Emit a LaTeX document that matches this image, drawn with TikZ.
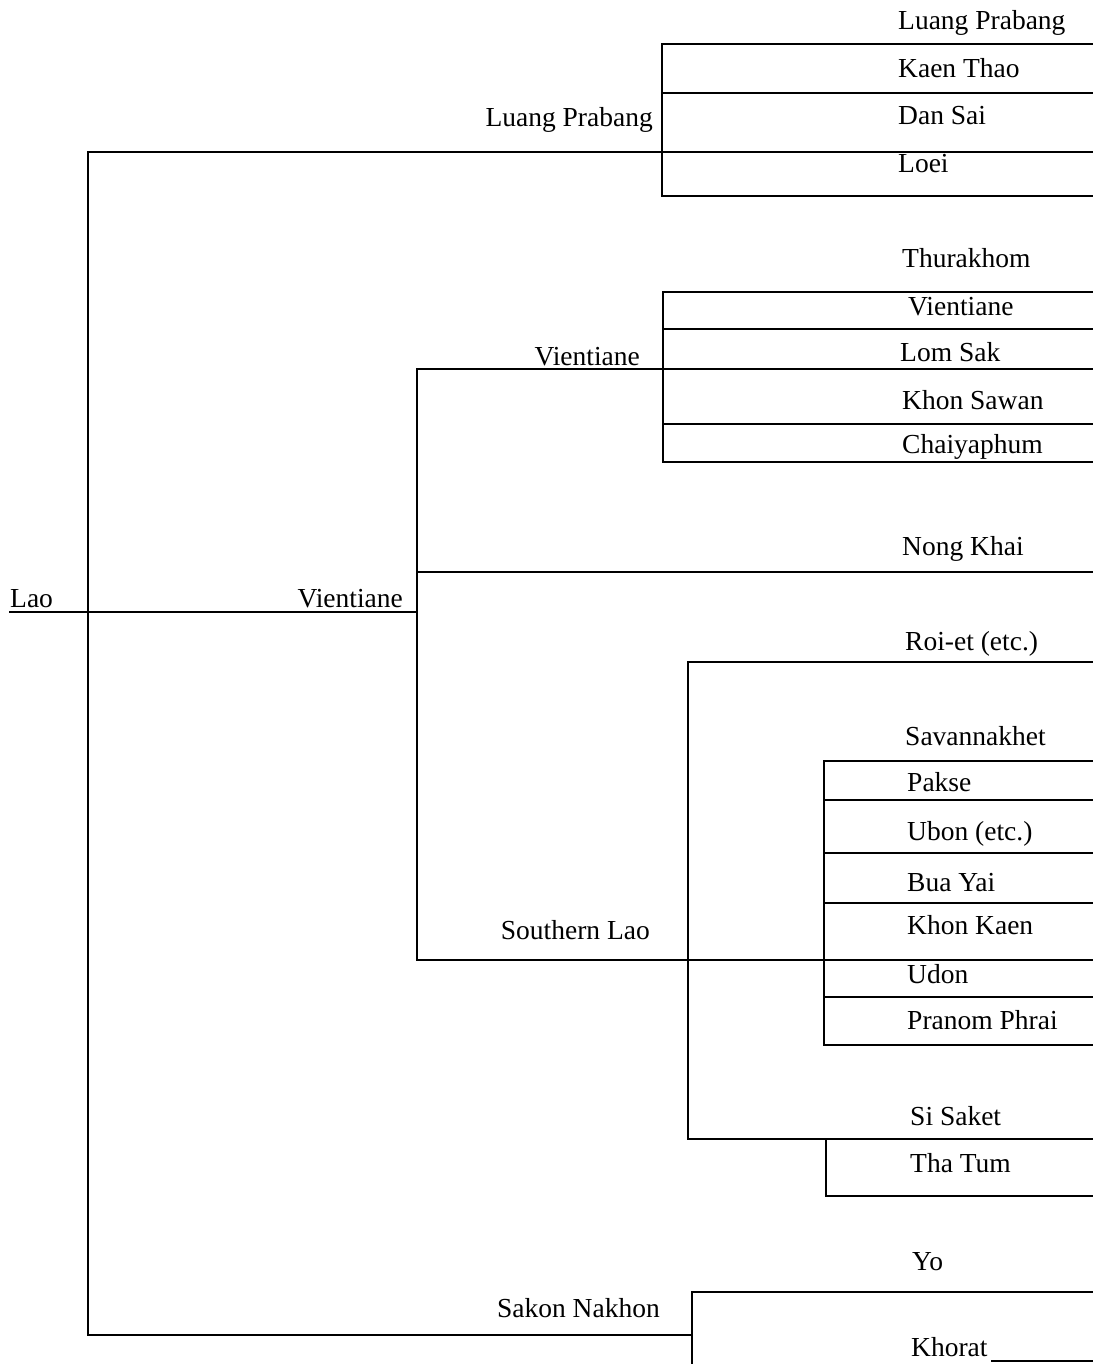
\documentclass[tikz,border=0pt]{standalone}
\usepackage{fontspec}
\setmainfont{Liberation Serif}
\begin{document}
\begin{tikzpicture}[x=1pt,y=-1pt,
  br/.style={line width=2pt,line cap=rect},
  lw/.style={inner sep=0pt,anchor=base west,font=\fontsize{27.5}{30}\selectfont},
  le/.style={inner sep=0pt,anchor=base east,font=\fontsize{27.5}{30}\selectfont}]
\useasboundingbox (0,0) rectangle (1092,1364);
% ---------- coordinates ----------
\def\R{1092}
% main trunk
\coordinate (mT) at (88,152);
\coordinate (mL) at (88,612);
\coordinate (mB) at (88,1335);
\coordinate (laoL) at (10,612);
% Luang Prabang bracket
\coordinate (lp1) at (662,44);  \coordinate (lp1r) at (\R,44);
\coordinate (lp2) at (662,93);  \coordinate (lp2r) at (\R,93);
\coordinate (lp3) at (662,152); \coordinate (lp3r) at (\R,152);
\coordinate (lp4) at (662,196); \coordinate (lp4r) at (\R,196);
% Vientiane main vertical
\coordinate (vT) at (417,369);
\coordinate (vL) at (417,612);
\coordinate (vN) at (417,572);
\coordinate (vS) at (417,960);
% Vientiane sub bracket
\coordinate (vs1) at (663,292); \coordinate (vs1r) at (\R,292);
\coordinate (vs2) at (663,329); \coordinate (vs2r) at (\R,329);
\coordinate (vs3) at (663,369); \coordinate (vs3r) at (\R,369);
\coordinate (vs4) at (663,424); \coordinate (vs4r) at (\R,424);
\coordinate (vs5) at (663,462); \coordinate (vs5r) at (\R,462);
\coordinate (nkr) at (\R,572);
% Southern Lao bracket
\coordinate (sl1) at (688,662); \coordinate (sl1r) at (\R,662);
\coordinate (sl2) at (688,1139); \coordinate (sl2r) at (\R,1139);
\coordinate (slr) at (\R,960);
% Savannakhet bracket
\coordinate (sv1) at (824,761);  \coordinate (sv1r) at (\R,761);
\coordinate (sv2) at (824,800);  \coordinate (sv2r) at (\R,800);
\coordinate (sv3) at (824,853);  \coordinate (sv3r) at (\R,853);
\coordinate (sv4) at (824,903);  \coordinate (sv4r) at (\R,903);
\coordinate (sv6) at (824,997);  \coordinate (sv6r) at (\R,997);
\coordinate (sv7) at (824,1045); \coordinate (sv7r) at (\R,1045);
% Tha Tum bracket
\coordinate (tt1) at (826,1139);
\coordinate (tt2) at (826,1196); \coordinate (tt2r) at (\R,1196);
% Sakon Nakhon bracket
\coordinate (sk) at (692,1335);
\coordinate (sk1) at (692,1292); \coordinate (sk1r) at (\R,1292);
\coordinate (sk2) at (692,1364);
\coordinate (khl) at (992,1361); \coordinate (khr) at (\R,1361);

% ---------- lines ----------
\draw[br] (mT) -- (mB);
\draw[br] (laoL) -- (vL);
\draw[br] (mT) -- (lp3r);
\draw[br] (lp1) -- (lp4);
\draw[br] (lp1) -- (lp1r);
\draw[br] (lp2) -- (lp2r);
\draw[br] (lp4) -- (lp4r);
\draw[br] (vT) -- (vS);
\draw[br] (vT) -- (vs3r);
\draw[br] (vs1) -- (vs5);
\draw[br] (vs1) -- (vs1r);
\draw[br] (vs2) -- (vs2r);
\draw[br] (vs4) -- (vs4r);
\draw[br] (vs5) -- (vs5r);
\draw[br] (vN) -- (nkr);
\draw[br] (vS) -- (slr);
\draw[br] (sl1) -- (sl2);
\draw[br] (sl1) -- (sl1r);
\draw[br] (sl2) -- (sl2r);
\draw[br] (sv1) -- (sv7);
\draw[br] (sv1) -- (sv1r);
\draw[br] (sv2) -- (sv2r);
\draw[br] (sv3) -- (sv3r);
\draw[br] (sv4) -- (sv4r);
\draw[br] (sv6) -- (sv6r);
\draw[br] (sv7) -- (sv7r);
\draw[br] (tt1) -- (tt2);
\draw[br] (tt2) -- (tt2r);
\draw[br] (mB) -- (sk);
\draw[br] (sk1) -- (sk2);
\draw[br] (sk1) -- (sk1r);
\draw[br] (khl) -- (khr);

% ---------- labels ----------
\node[lw] (lLao) at (10,607) {Lao};
\node[le] (lVien) at (403,607) {Vientiane};
\node[le] (lLP) at (653,127) {Luang Prabang};
\node[le] (lVien2) at (640,365) {Vientiane};
\node[le] (lSL) at (650,939) {Southern Lao};
\node[le] (lSK) at (660,1317) {Sakon Nakhon};

\node[lw] (a1) at (898,30) {Luang Prabang};
\node[lw] (a2) at (898,78) {Kaen Thao};
\node[lw] (a3) at (898,125) {Dan Sai};
\node[lw] (a4) at (898,173) {Loei};

\node[lw] (b1) at (902,267) {Thurakhom};
\node[lw] (b2) at (908,315) {Vientiane};
\node[lw] (b3) at (900,361) {Lom Sak};
\node[lw] (b4) at (902,409) {Khon Sawan};
\node[lw] (b5) at (902,453) {Chaiyaphum};
\node[lw] (b6) at (902,555) {Nong Khai};

\node[lw] (c1) at (905,650) {Roi-et (etc.)};
\node[lw] (c2) at (905,745) {Savannakhet};
\node[lw] (c3) at (907,791) {Pakse};
\node[lw] (c4) at (907,840) {Ubon (etc.)};
\node[lw] (c5) at (907,891) {Bua Yai};
\node[lw] (c6) at (907,934) {Khon Kaen};
\node[lw] (c7) at (907,983) {Udon};
\node[lw] (c8) at (907,1029) {Pranom Phrai};
\node[lw] (c9) at (910,1125) {Si Saket};
\node[lw] (c10) at (910,1172) {Tha Tum};

\node[lw] (d1) at (912,1270) {Yo};
\node[lw] (d2) at (911,1356) {Khorat};
\end{tikzpicture}
\end{document}
